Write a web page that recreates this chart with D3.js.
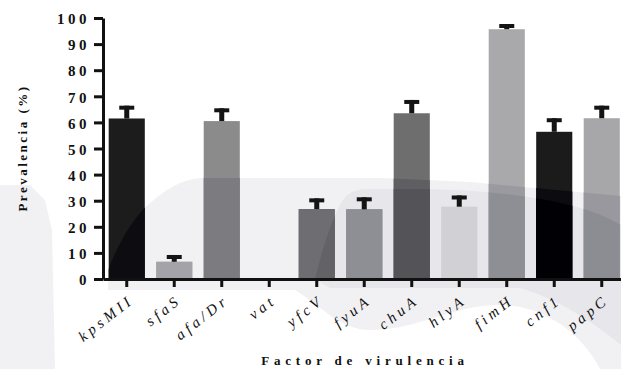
<!DOCTYPE html>
<html>
<head>
<meta charset="utf-8">
<script src="https://cdn.jsdelivr.net/npm/d3@7"></script>
<style>
  html, body { margin: 0; padding: 0; background: #fff; }
  svg { display: block; }
  text { fill: #111; }
</style>
</head>
<body>
<svg id="chart" width="621" height="369"></svg>
<script>
// Virulence factor prevalence (%) with error bars
const categories = ["kpsMII", "sfaS", "afa/Dr", "vat", "yfcV", "fyuA", "chuA", "hlyA", "fimH", "cnf1", "papC"];
const prevalence = [61.5, 6.6, 60.5, 0, 26.8, 26.7, 63.5, 27.7, 95.7, 56.4, 61.6];
const errors     = [4.9, 2.6, 4.9, 0, 4.1, 4.6, 5.1, 4.3, 2.0, 5.2, 4.8];
const barColors  = ["#1c1c1c", "#b2b2b4", "#8b8b8b", "#8b8b8b", "#7d7d7d", "#a9a9ab", "#6e6e6e", "#ebebeb", "#a9a9ab", "#1b1b1b", "#a7a7a9"];
const yTicks     = [0, 10, 20, 30, 40, 50, 60, 70, 80, 90, 100];

const data = categories.map((c, i) => ({ cat: c, value: prevalence[i], err: errors[i], color: barColors[i] }));

const svg = d3.select("#chart");
const W = 621, H = 369;
const plotLeft = 103, plotRight = 625.5, plotTop = 18, plotBottom = 279;

const x = d3.scaleBand().domain(categories).range([plotLeft, plotRight]).paddingInner(0.24).paddingOuter(0.12);
const y = d3.scaleLinear().domain([0, 100]).range([plotBottom, plotTop]);

// Faint background watermark (two tonal layers)
const shadeA = "M0,185 L30,185 L45,200 L52,230 L55,369 L0,369 Z " +
  "M108,290 L108,270 C120,240 135,215 150,203 C165,190 180,180 200,178 L380,178 L470,182 L621,196 " +
  "L621,369 L600,369 C580,330 540,305 500,305 C450,305 420,330 370,330 C340,330 320,305 295,290 Z";
const shadeB = "M315,279 C322,250 330,225 340,205 C345,195 352,190 365,189 L420,189 " +
  "C500,190 580,200 621,225 L621,288 L330,288 Z " +
  "M520,288 L621,288 L621,345 C590,320 560,300 520,288 Z";

const defs = svg.append("defs");
defs.append("clipPath").attr("id", "clipA").append("path").attr("d", shadeA);
defs.append("clipPath").attr("id", "clipB").append("path").attr("d", shadeB);

svg.append("path").attr("d", shadeA).attr("fill", "#f1f1f4");
svg.append("path").attr("d", shadeB).attr("fill", "#e6e6eb");

// Darken a bar colour by a fixed offset (tonal layer over the bars)
function shade(c, dr, dg, db) {
  const k = d3.rgb(c);
  return d3.rgb(Math.max(0, k.r - dr), Math.max(0, k.g - dg), Math.max(0, k.b - db)).formatHex();
}

const shown = data.filter(d => d.value > 0);

function drawBars(g, colorFn) {
  g.selectAll("rect")
    .data(shown)
    .join("rect")
    .attr("x", d => x(d.cat))
    .attr("width", x.bandwidth())
    .attr("y", d => y(d.value))
    .attr("height", d => y(0) - y(d.value))
    .attr("fill", colorFn);
}

drawBars(svg.append("g"), d => d.color);
drawBars(svg.append("g").attr("clip-path", "url(#clipA)"), d => shade(d.color, 15, 15, 11));
drawBars(svg.append("g").attr("clip-path", "url(#clipB)"), d => shade(d.color, 27, 27, 22));

// Error bars: stem + cap
const eb = svg.append("g").attr("fill", "#141414");
eb.selectAll("rect.stem")
  .data(shown)
  .join("rect")
  .attr("class", "stem")
  .attr("x", d => x(d.cat) + x.bandwidth() / 2 - 2.5)
  .attr("width", 5)
  .attr("y", d => y(d.value + d.err))
  .attr("height", d => y(d.value) - y(d.value + d.err));
eb.selectAll("rect.cap")
  .data(shown)
  .join("rect")
  .attr("class", "cap")
  .attr("x", d => x(d.cat) + x.bandwidth() / 2 - 7.5)
  .attr("width", 15)
  .attr("y", d => y(d.value + d.err))
  .attr("height", 4);

// Y axis
const yAxis = svg.append("g")
  .attr("transform", `translate(${plotLeft},0)`)
  .call(d3.axisLeft(y).tickValues(yTicks).tickSize(9).tickSizeOuter(0).tickPadding(4));
yAxis.select(".domain").attr("stroke", "#111").attr("stroke-width", 3);
yAxis.selectAll(".tick line").attr("stroke", "#111").attr("stroke-width", 3);
yAxis.selectAll(".tick text")
  .attr("font-family", "'Liberation Serif', 'Times New Roman', serif")
  .attr("font-weight", "bold")
  .attr("font-size", 15)
  .style("letter-spacing", "3.5px")
  .attr("fill", "#111")
  .attr("dy", "0.38em");

// X axis
const xAxis = svg.append("g")
  .attr("transform", `translate(0,${plotBottom})`)
  .call(d3.axisBottom(x).tickSize(8).tickSizeOuter(0));
xAxis.select(".domain").attr("stroke", "#111").attr("stroke-width", 3);
xAxis.selectAll(".tick line").attr("stroke", "#111").attr("stroke-width", 3);
xAxis.selectAll(".tick text")
  .attr("y", null)
  .attr("dy", null)
  .attr("text-anchor", "end")
  .attr("transform", "translate(8,23) rotate(-38)")
  .attr("font-family", "'Liberation Serif', 'Times New Roman', serif")
  .attr("font-style", "italic")
  .attr("font-size", 15)
  .style("letter-spacing", "3.8px")
  .attr("fill", "#111");

// Axis titles
svg.append("text")
  .attr("x", (plotLeft + W) / 2 + 3)
  .attr("y", 365)
  .attr("text-anchor", "middle")
  .attr("font-family", "'Liberation Serif', 'Times New Roman', serif")
  .attr("font-weight", "bold")
  .attr("font-size", 13)
  .style("letter-spacing", "4.8px")
  .text("Factor de virulencia");

svg.append("text")
  .attr("transform", "translate(27,148) rotate(-90)")
  .attr("text-anchor", "middle")
  .attr("font-family", "'Liberation Serif', 'Times New Roman', serif")
  .attr("font-weight", "bold")
  .attr("font-size", 13)
  .style("letter-spacing", "2.5px")
  .text("Prevalencia (%)");
</script>
</body>
</html>
